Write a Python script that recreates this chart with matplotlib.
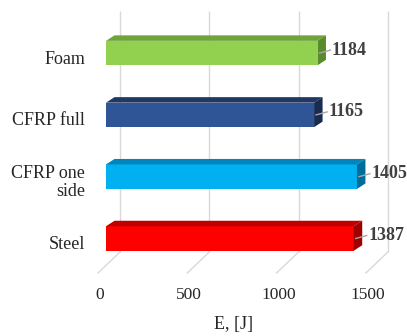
import matplotlib
matplotlib.use("Agg")
import matplotlib.pyplot as plt
from matplotlib.patches import Polygon

# Impact energy absorbed by each configuration
categories = ["Steel", "CFRP one\nside", "CFRP full", "Foam"]
energy = [1387, 1405, 1165, 1184]
front_colors = ["#ff0000", "#00b0f0", "#2f5597", "#92d050"]
top_colors = ["#c00000", "#0086bd", "#1f3864", "#6ea43a"]
side_colors = ["#9e0000", "#006c99", "#182c52", "#5a8a2c"]
ticks = [0, 500, 1000, 1500]
tick_labels = ["0", "500", "1000", "1500"]
xlabel = "E, [J]"

plt.rcParams["font.family"] = ["Liberation Serif", "DejaVu Serif"]

W, H = 407, 336
fig = plt.figure(figsize=(W / 100, H / 100), dpi=100)
ax = fig.add_axes([0, 0, 1, 1])

# pixel -> data conversion for the pseudo-3D layout
PX = 500 / 89.3      # value units per pixel
PY = 1 / 61.8        # category units per pixel
x0px, y0px = 106, 97.5
ax.set_xlim(-x0px * PX, (W - x0px) * PX)
ax.set_ylim(-y0px * PY, (H - y0px) * PY)
ax.axis("off")

def ypix(p):
    """Convert a pixel row (from top) to data y."""
    return (H - p - y0px) * PY

grid_col = "#d9d9d9"
wall_dx = 14 * PX
floor_dx = -8 * PX
for t in ticks:
    ax.plot([t + wall_dx, t + wall_dx], [ypix(11), ypix(252)],
            color=grid_col, lw=1.0, zorder=1, solid_capstyle="butt")
    ax.plot([t + wall_dx, t + floor_dx], [ypix(252), ypix(273)],
            color=grid_col, lw=1.0, zorder=1)

# bars: front face plus top and side faces for depth
bar_h = 24.5 * PY
dx, dy = 8.5 * PX, 5.5 * PY
ypos = list(range(len(categories)))
ax.barh(ypos, energy, height=bar_h, color=front_colors, zorder=3)
for y, v, tc, sc in zip(ypos, energy, top_colors, side_colors):
    top = Polygon([(0, y + bar_h / 2), (v, y + bar_h / 2),
                   (v + dx, y + bar_h / 2 + dy), (dx, y + bar_h / 2 + dy)],
                  closed=True, facecolor=tc, edgecolor="none", zorder=3)
    side = Polygon([(v, y - bar_h / 2), (v, y + bar_h / 2),
                    (v + dx, y + bar_h / 2 + dy), (v + dx, y - bar_h / 2 + dy)],
                   closed=True, facecolor=sc, edgecolor="none", zorder=3)
    ax.add_patch(top)
    ax.add_patch(side)
    # leader line and value label
    ax.plot([v + 2 * PX, v + 13 * PX], [y, y + 3 * PY],
            color="#a6a6a6", lw=1.0, zorder=4)
    ax.text(v + 14.5 * PX, y + 3 * PY, f"{v}", ha="left", va="center",
            fontsize=13, fontweight="bold", color="#404040", zorder=5)

# category labels
for y, c in zip(ypos, categories):
    ax.text(-21 * PX, y - 6 * PY, c, ha="right", va="center",
            fontsize=13, color="#262626", linespacing=1.1)

# value axis labels on the floor edge
for t, lab in zip(ticks, tick_labels):
    ax.text(t - 6 * PX, ypix(295), lab, ha="center", va="center",
            fontsize=12.5, color="#262626")

ax.text((ticks[0] + ticks[-1]) / 2 - 6 * PX, ypix(325), xlabel,
        ha="center", va="center", fontsize=13, color="#262626")

fig.savefig("out.png", dpi=100)
